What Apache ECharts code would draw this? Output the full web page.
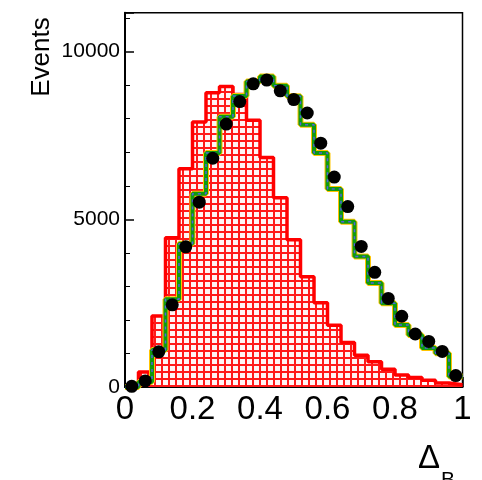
<!DOCTYPE html>
<html>
<head>
<meta charset="utf-8">
<script src="https://cdn.jsdelivr.net/npm/echarts@6/dist/echarts.min.js"></script>
<style>
  html, body { margin: 0; padding: 0; background: #fff; }
  #chart { width: 482px; height: 480px; }
</style>
</head>
<body>
<div id="chart"></div>
<script>
// 25 bins of width 0.04 between 0 and 1
const binWidth = 0.04
const nBins = 25

// measured data (black points)
const dataCounts = [20, 180, 1050, 2450, 4180, 5510, 6820, 7840, 8510, 9040, 9150, 8830, 8570,
  8170, 7270, 6260, 5380, 4190, 3420, 2640, 2110, 1580, 1360, 1060, 340]

// total MC prediction (green step)
const mcCounts = [0, 150, 1100, 2620, 4270, 5760, 6980, 8060, 8680, 9110, 9260, 8980, 8670,
  7820, 6980, 5900, 4930, 3890, 3100, 2500, 1850, 1550, 1160, 1010, 310]

// signal component (red hatched)
const sigCounts = [0, 450, 2120, 4450, 6510, 7900, 8770, 8960, 8720, 7950, 6840, 5640, 4390,
  3290, 2510, 1840, 1330, 950, 750, 530, 360, 285, 200, 120, 70]

const xTicks = [0, 0.2, 0.4, 0.6, 0.8, 1]
const yTicks = [0, 5000, 10000]

// step-histogram points: left edge of each bin, plus closing point at the last edge
const toSteps = vals => {
  const pts = vals.map((v, i) => [+(i * binWidth).toFixed(2), v])
  pts.push([+(nBins * binWidth).toFixed(2), vals[vals.length - 1]])
  return pts
}

// small grid pattern for the hatched red fill
const makeHatch = () => {
  const c = document.createElement('canvas')
  c.width = 7
  c.height = 7
  const g = c.getContext('2d')
  g.fillStyle = '#ff1a1a'
  g.fillRect(0, 0, 7, 7)
  g.fillStyle = '#fff4f4'
  g.fillRect(2, 2, 5, 5)
  return c
}

const chart = echarts.init(document.getElementById('chart'))

const option = {
  animation: false,
  backgroundColor: '#fff',
  grid: {
    left: 125,
    right: 19.5,
    top: 12.7,
    bottom: 93,
    show: true,
    borderColor: '#000',
    borderWidth: 1.5
  },
  xAxis: {
    type: 'value',
    min: 0,
    max: 1,
    interval: 0.2,
    axisLine: { onZero: false, lineStyle: { color: '#000', width: 2 } },
    axisTick: { inside: true, length: 10, lineStyle: { color: '#000', width: 1.5 } },
    minorTick: { show: true, splitNumber: 4, length: 5, lineStyle: { color: '#000', width: 1 } },
    axisLabel: {
      color: '#000',
      fontSize: 33,
      fontFamily: 'Liberation Sans',
      margin: 6,
      formatter: v => (xTicks.some(t => Math.abs(t - v) < 1e-6) ? String(+v.toFixed(1)) : '')
    },
    splitLine: { show: false }
  },
  yAxis: {
    type: 'value',
    min: 0,
    max: 11160,
    interval: 5000,
    axisLine: { show: true, lineStyle: { color: '#000', width: 2 } },
    axisTick: { inside: true, length: 9, lineStyle: { color: '#000', width: 1.5 } },
    minorTick: { show: true, splitNumber: 5, length: 5, lineStyle: { color: '#000', width: 1 } },
    axisLabel: {
      color: '#000',
      fontSize: 21,
      fontFamily: 'Liberation Sans',
      margin: 5,
      showMaxLabel: false,
      formatter: v => (yTicks.includes(v) ? String(v) : '')
    },
    splitLine: { show: false }
  },
  graphic: [
    {
      type: 'text',
      x: 42,
      y: 57,
      rotation: Math.PI / 2,
      style: {
        text: 'Events',
        fontSize: 26,
        fontFamily: 'Liberation Sans',
        fill: '#000',
        align: 'center',
        verticalAlign: 'middle'
      }
    },
    {
      type: 'text',
      x: 418,
      y: 442,
      style: {
        text: '{d|Δ}{s|B}',
        fill: '#000',
        rich: {
          d: { fontSize: 33, fontFamily: 'Liberation Sans', fill: '#000', verticalAlign: 'top' },
          s: { fontSize: 21, fontFamily: 'Liberation Sans', fill: '#000', padding: [28, 0, 0, 1] }
        }
      }
    }
  ],
  series: [
    {
      name: 'signal',
      type: 'line',
      step: 'end',
      data: toSteps(sigCounts),
      symbol: 'none',
      lineStyle: { color: '#ff0000', width: 3.5 },
      areaStyle: { color: { image: makeHatch(), repeat: 'repeat' }, opacity: 1 },
      z: 2
    },
    {
      name: 'mc band',
      type: 'line',
      step: 'end',
      data: toSteps(mcCounts),
      symbol: 'none',
      lineStyle: { color: '#ffc400', width: 6 },
      z: 3
    },
    {
      name: 'mc',
      type: 'line',
      step: 'end',
      data: toSteps(mcCounts),
      symbol: 'none',
      lineStyle: { color: '#0f9a0f', width: 4 },
      z: 4
    },
    {
      name: 'mc dashed',
      type: 'line',
      step: 'end',
      data: toSteps(mcCounts),
      symbol: 'none',
      lineStyle: { color: '#5060e0', width: 1.5, type: [3, 4] },
      z: 5
    },
    {
      name: 'data',
      type: 'scatter',
      data: dataCounts.map((v, i) => [(i + 0.5) * binWidth, v]),
      symbol: 'circle',
      symbolSize: 13,
      itemStyle: { color: '#000', opacity: 1 },
      z: 6
    }
  ]
}

chart.setOption(option)
</script>
</body>
</html>
